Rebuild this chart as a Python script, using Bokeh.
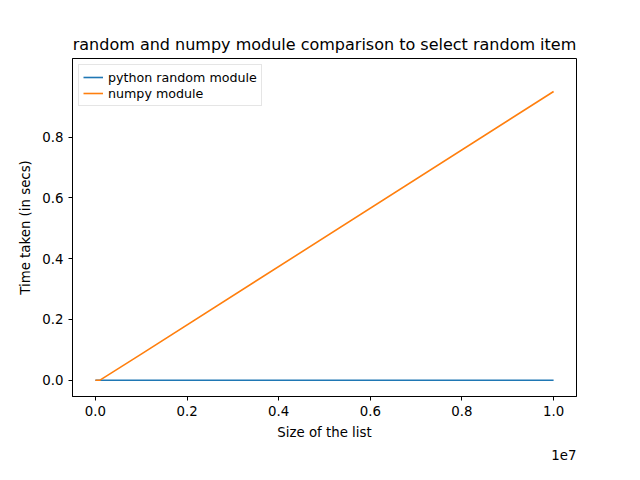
from bokeh.plotting import figure
from bokeh.models import Range1d, Title, FixedTicker
from bokeh.embed import file_html
from bokeh.resources import INLINE

sizes = [10, 100, 1000, 10000, 100000, 1000000, 10000000]
random_times = [0.000005, 0.000005, 0.000005, 0.000005, 0.000005, 0.000005, 0.000006]
numpy_times = [0.0, 0.0, 0.0, 0.0, 0.0005, 0.086, 0.95]

FONT = "DejaVu Sans"

p = figure(width=624, height=464, output_backend="svg", toolbar_location=None,
           x_range=Range1d(-0.05e7, 1.05e7), y_range=Range1d(-0.0535, 1.0586),
           title="random and numpy module comparison to select random item")
p.min_border_left = 72
p.min_border_right = 48
p.min_border_top = 58
p.min_border_bottom = 30

p.line(sizes, random_times, line_color="#1f77b4", line_width=1.6, legend_label="python random module")
p.line(sizes, numpy_times, line_color="#ff7f0e", line_width=1.6, legend_label="numpy module")

p.title.text_font = FONT
p.title.text_font_size = "12pt"
p.title.text_font_style = "normal"
p.title.text_color = "black"
p.title.align = "center"

p.xaxis.ticker = FixedTicker(ticks=[0, 2e6, 4e6, 6e6, 8e6, 1e7])
p.xaxis.major_label_overrides = {0: "0.0", 2e6: "0.2", 4e6: "0.4", 6e6: "0.6", 8e6: "0.8", 1e7: "1.0"}
p.yaxis.ticker = FixedTicker(ticks=[0, 0.2, 0.4, 0.6, 0.8])
p.yaxis.major_label_overrides = {0: "0.0", 0.2: "0.2", 0.4: "0.4", 0.6: "0.6", 0.8: "0.8"}
p.xaxis.axis_label = "Size of the list"
p.yaxis.axis_label = "Time taken (in secs)"
for ax in (p.xaxis[0], p.yaxis[0]):
    ax.axis_label_text_font = FONT
    ax.axis_label_text_font_style = "normal"
    ax.axis_label_text_font_size = "10pt"
    ax.axis_label_text_color = "black"
    ax.axis_label_standoff = 6
    ax.major_label_text_font = FONT
    ax.major_label_text_font_size = "10pt"
    ax.major_label_text_color = "black"
    ax.major_tick_in = 0
    ax.major_tick_out = 4
    ax.minor_tick_line_color = None
    ax.axis_line_color = "black"
    ax.major_tick_line_color = "black"
p.yaxis.major_label_orientation = "horizontal"
p.grid.grid_line_color = None
p.outline_line_color = "black"

p.add_layout(Title(text="1e7", align="right", text_font=FONT, text_font_size="10pt",
                   text_font_style="normal", text_color="black", offset=0), "below")

p.legend.location = "top_left"
p.legend.label_text_font = FONT
p.legend.label_text_font_size = "9.5pt"
p.legend.label_text_color = "black"
p.legend.border_line_color = "#cccccc"
p.legend.margin = 6
p.legend.padding = 4
p.legend.spacing = 0
p.legend.glyph_height = 16
p.legend.label_height = 16

open("out.html", "w").write(file_html(p, INLINE))
